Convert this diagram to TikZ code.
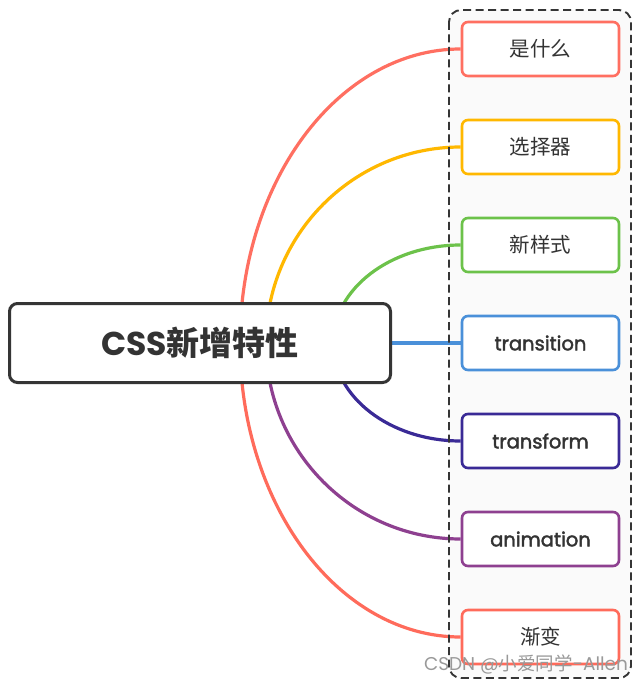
\documentclass[tikz,border=0pt]{standalone}
\usepackage{fontspec}
\setmainfont{Poppins}
\newfontfamily\cjk{Noto Sans CJK SC}
\newfontfamily\popmed[FakeBold=2]{Poppins}
\usetikzlibrary{calc}
\definecolor{cred}{HTML}{FF6F61}
\definecolor{corange}{HTML}{FFB800}
\definecolor{cgreen}{HTML}{6CC24A}
\definecolor{cblue}{HTML}{4A90D9}
\definecolor{cnavy}{HTML}{3A2A96}
\definecolor{cpurple}{HTML}{8E4090}
\definecolor{cred2}{HTML}{FF6B5B}
\definecolor{cdark}{HTML}{353535}
\definecolor{ctext}{HTML}{333333}
\pgfdeclarelayer{back}
\pgfdeclarelayer{bg}
\pgfsetlayers{back,bg,main}
\tikzset{
  rootbox/.style={draw=cdark, line width=3pt, rounded corners=8pt, fill=white,
    minimum width=381pt, minimum height=79pt, inner sep=0pt, text=ctext},
  childbox/.style={line width=2.6pt, rounded corners=6pt, fill=white,
    minimum width=157pt, minimum height=54pt, inner sep=0pt, text=ctext},
  conn/.style={line width=3.2pt},
  dashbox/.style={draw=cdark, line width=1.9pt, dash pattern=on 8pt off 4.5pt, rounded corners=12pt},
  cjktxt/.style={font=\cjk\fontsize{20.5pt}{24pt}\selectfont},
  lattxt/.style={font=\popmed\fontsize{19.5pt}{24pt}\selectfont},
}
\newcommand{\curveto}[3]{%
  \draw[conn, #3] (#1) .. controls ($(#1)!0.552!(#1|-#2.west)$) and ($(#2.west)!0.552!(#1|-#2.west)$) .. (#2.west);}
\begin{document}
\begin{tikzpicture}[x=1pt,y=-1pt]
\useasboundingbox (0,0) rectangle (640,684);
\begin{pgfonlayer}{back}
\fill[white] (0,0) rectangle (640,684);
\fill[fill=black!2, rounded corners=12pt] (449,10) rectangle (631,678);
\end{pgfonlayer}
\draw[dashbox] (449,10) rectangle (631,678);
\node[rootbox] (root) at (200,343) {\fontsize{33pt}{38pt}\selectfont\bfseries CSS{\cjk\bfseries 新增特性}};
\node[childbox, draw=cred, cjktxt] (c1) at (540.5,49) {是什么};
\node[childbox, draw=corange, cjktxt] (c2) at (540.5,147) {选择器};
\node[childbox, draw=cgreen, cjktxt] (c3) at (540.5,245) {新样式};
\node[childbox, draw=cblue, lattxt] (c4) at (540.5,343) {transition};
\node[childbox, draw=cnavy, lattxt] (c5) at (540.5,441) {transform};
\node[childbox, draw=cpurple, lattxt] (c6) at (540.5,539) {animation};
\node[childbox, draw=cred2, cjktxt] (c7) at (540.5,637) {渐变};
\coordinate (sa) at (240,343);
\coordinate (sb) at (266,343);
\coordinate (sc) at (333,343);
\begin{pgfonlayer}{bg}
\curveto{sa}{c1}{cred}
\curveto{sb}{c2}{corange}
\curveto{sc}{c3}{cgreen}
\draw[conn, cblue] (root.east) -- (c4.west);
\curveto{sc}{c5}{cnavy}
\curveto{sb}{c6}{cpurple}
\curveto{sa}{c7}{cred2}
\end{pgfonlayer}
\node[text=black!40, font=\fontsize{18.5pt}{22pt}\selectfont, inner sep=0pt] (wm) at (526,664) {CSDN @{\cjk 小爱同学}-Allen};
\end{tikzpicture}
\end{document}
